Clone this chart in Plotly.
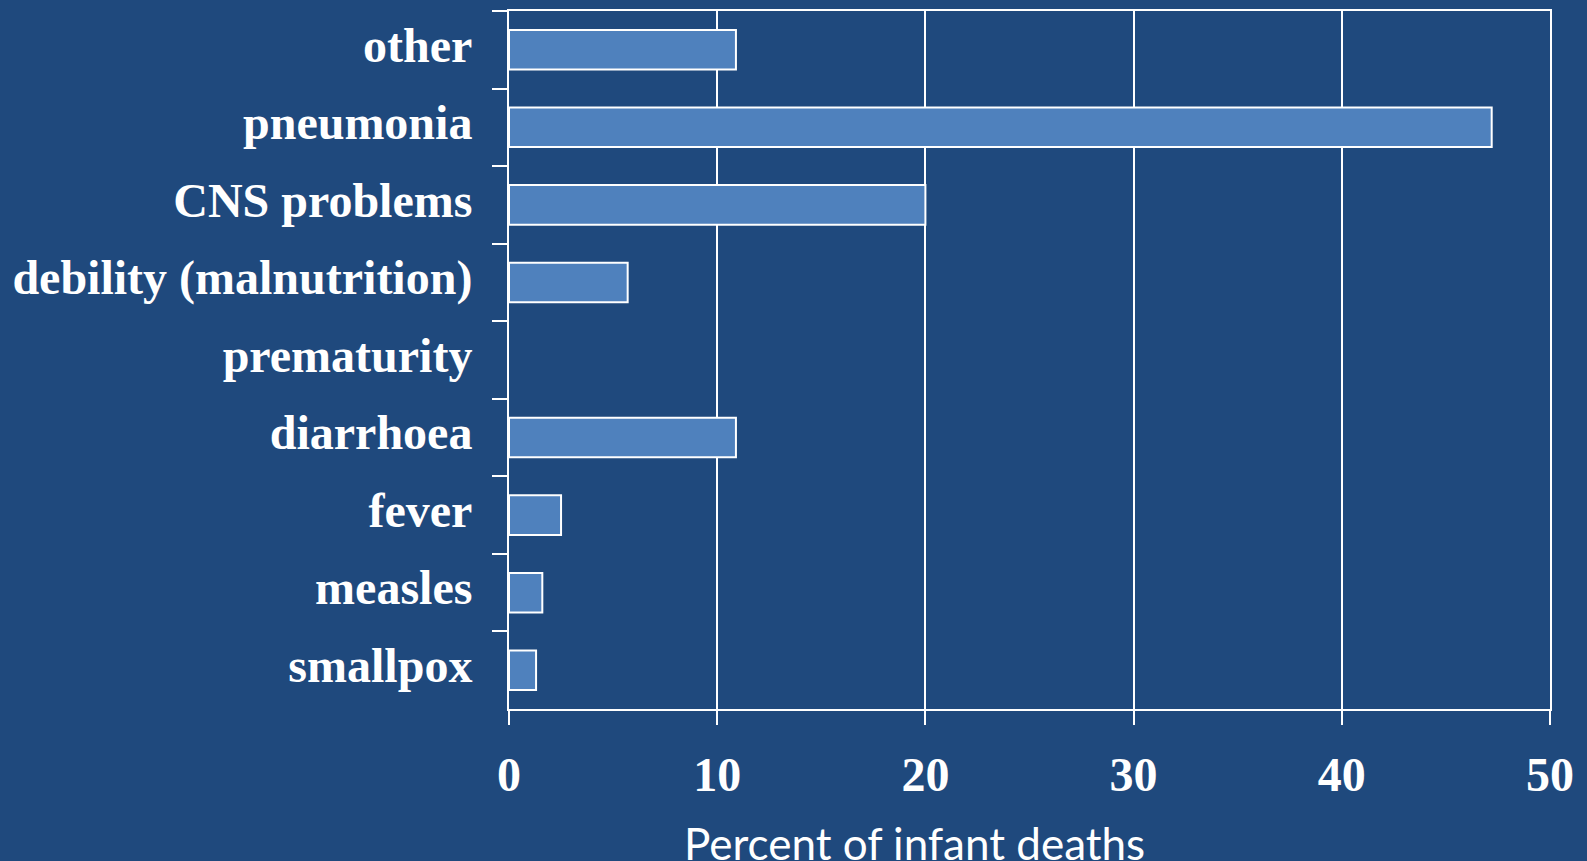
import plotly.graph_objects as go

# Causes of infant death, listed top to bottom
causes = [
    "other",
    "pneumonia",
    "CNS problems",
    "debility (malnutrition)",
    "prematurity",
    "diarrhoea",
    "fever",
    "measles",
    "smallpox",
]
percent = [10.9, 47.2, 20.0, 5.7, 0.0, 10.9, 2.5, 1.6, 1.3]
x_ticks = [0, 10, 20, 30, 40, 50]

BG = "#1F497D"
BAR = "#4F81BD"
WHITE = "#FFFFFF"
SERIF = "Liberation Serif, Times New Roman, serif"

# no outline on empty bars so nothing is drawn for a zero value
outline_widths = [2 if v > 0 else 0 for v in percent]

fig = go.Figure(
    go.Bar(
        x=percent,
        y=causes,
        orientation="h",
        marker=dict(color=BAR, line=dict(color=WHITE, width=outline_widths)),
        width=0.51,
        hoverinfo="x+y",
    )
)

fig.update_layout(
    width=1587,
    height=861,
    paper_bgcolor=BG,
    plot_bgcolor=BG,
    margin=dict(l=509, r=37, t=9, b=152),
    showlegend=False,
    xaxis=dict(
        range=[0, 50],
        tickvals=x_ticks,
        ticktext=[str(v) for v in x_ticks],
        showgrid=True,
        gridcolor=WHITE,
        gridwidth=2,
        zeroline=False,
        showline=True,
        linecolor=WHITE,
        linewidth=2,
        mirror=True,
        ticks="outside",
        ticklen=14,
        tickwidth=2,
        tickcolor=WHITE,
        ticklabelstandoff=8,
        tickfont=dict(family=SERIF, size=48, color=WHITE, weight="bold"),
    ),
    yaxis=dict(
        categoryorder="array",
        categoryarray=causes,
        autorange="reversed",
        showgrid=False,
        zeroline=False,
        showline=True,
        linecolor=WHITE,
        linewidth=2,
        mirror=True,
        ticks="outside",
        tickson="boundaries",
        ticklen=15,
        tickwidth=2,
        tickcolor=WHITE,
        ticklabelstandoff=25,
        ticklabelshift=5,
        tickfont=dict(family=SERIF, size=48, color=WHITE, weight="bold"),
    ),
    annotations=[
        dict(
            text="Percent of infant deaths",
            xref="paper",
            yref="paper",
            x=(914.5 - 509) / (1550 - 509),
            y=-(843 - 709) / (709 - 9),
            xanchor="center",
            yanchor="middle",
            showarrow=False,
            font=dict(family="Lato, Open Sans, sans-serif", size=44, color=WHITE),
        )
    ],
)

fig.write_html("out.html")
